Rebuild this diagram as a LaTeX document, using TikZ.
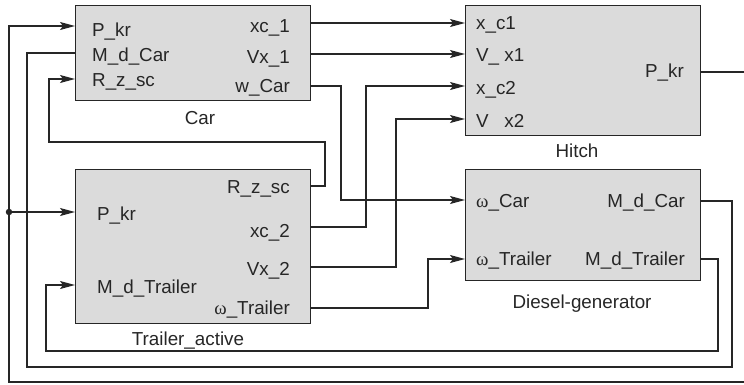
\documentclass[tikz,border=0pt]{standalone}
\usepackage{fontspec}
\setmainfont{Liberation Sans}
\newfontfamily\omf{Liberation Serif}
\usetikzlibrary{arrows.meta}
\definecolor{boxfill}{gray}{0.86}
\definecolor{ink}{gray}{0.15}
\tikzset{
  blk/.style={draw=ink, fill=boxfill, line width=1.3pt, inner sep=0pt, anchor=north west},
  lbl/.style={font=\fontsize{18.8}{22}\selectfont, text=ink, inner sep=0pt},
  wire/.style={draw=ink, line width=1.2pt},
  arr/.style={wire, -{Stealth[length=15pt,width=8pt,inset=3pt]}},
  jdot/.style={circle, fill=ink, inner sep=0pt, minimum size=6.5pt},
}
\begin{document}
\begin{tikzpicture}[x=1pt,y=-1pt]
\useasboundingbox (0,0) rectangle (744,384);
% blocks
\node[blk, minimum width=235pt, minimum height=95pt] (car) at (75,5) {};
\node[blk, minimum width=235pt, minimum height=130pt] (hitch) at (465,5) {};
\node[blk, minimum width=235pt, minimum height=154pt] (trl) at (75,169) {};
\node[blk, minimum width=235pt, minimum height=111pt] (dsl) at (465,169) {};
% block titles
\node[lbl, anchor=base] (tcar) at (200,124) {Car};
\node[lbl, anchor=base] (thitch) at (577,157) {Hitch};
\node[lbl, anchor=base] (ttrl) at (188,345) {Trailer\_active};
\node[lbl, anchor=base] (tdsl) at (582,308) {Diesel-generator};
% Car ports
\node[lbl, anchor=base west] (lc1) at (92,36) {P\_kr};
\node[lbl, anchor=base west] (lc2) at (92,61) {M\_d\_Car};
\node[lbl, anchor=base west] (lc3) at (92,86) {R\_z\_sc};
\node[lbl, anchor=base east] (lc4) at (290,32) {xc\_1};
\node[lbl, anchor=base east] (lc5) at (290,63) {Vx\_1};
\node[lbl, anchor=base east] (lc6) at (290,92) {w\_Car};
% Hitch ports
\node[lbl, anchor=base west] (lh1) at (476,29) {x\_c1};
\node[lbl, anchor=base west] (lh2) at (476,61) {V\_ x1};
\node[lbl, anchor=base west] (lh3) at (476,94) {x\_c2};
\node[lbl, anchor=base west] (lh4) at (476,127) {V\phantom{\_} x2};
\node[lbl, anchor=base east] (lh5) at (684,77) {P\_kr};
% Trailer ports
\node[lbl, anchor=base east] (lt1) at (290,193) {R\_z\_sc};
\node[lbl, anchor=base west] (lt2) at (97,220) {P\_kr};
\node[lbl, anchor=base east] (lt3) at (290,237) {xc\_2};
\node[lbl, anchor=base east] (lt4) at (290,275) {Vx\_2};
\node[lbl, anchor=base west] (lt5) at (97,293) {M\_d\_Trailer};
\node[lbl, anchor=base east] (lt6) at (290,314) {{\omf ω}\_Trailer};
% Diesel ports
\node[lbl, anchor=base west] (ld1) at (476,207) {{\omf ω}\_Car};
\node[lbl, anchor=base east] (ld2) at (685,207) {M\_d\_Car};
\node[lbl, anchor=base west] (ld3) at (476,265) {{\omf ω}\_Trailer};
\node[lbl, anchor=base east] (ld4) at (685,265) {M\_d\_Trailer};
% port coordinates
\coordinate (cIn1) at (75,26);
\coordinate (cIn2) at (75,53);
\coordinate (cIn3) at (75,79);
\coordinate (cOut1) at (310,23);
\coordinate (cOut2) at (310,54);
\coordinate (cOut3) at (310,86);
\coordinate (hIn1) at (465,23);
\coordinate (hIn2) at (465,54);
\coordinate (hIn3) at (465,86);
\coordinate (hIn4) at (465,119);
\coordinate (hOut) at (700,72);
\coordinate (tIn1) at (75,212);
\coordinate (tIn2) at (75,285);
\coordinate (tOut1) at (310,186);
\coordinate (tOut2) at (310,227);
\coordinate (tOut3) at (310,267);
\coordinate (tOut4) at (310,308);
\coordinate (dIn1) at (465,200);
\coordinate (dIn2) at (465,259);
\coordinate (dOut1) at (700,201);
\coordinate (dOut2) at (700,259);
\coordinate (edgeR) at (744,72);
\coordinate (edgeB) at (744,382);
\node[jdot] (jn) at (9,212) {};
% connectors
\draw[arr] (cOut1) -- (hIn1);
\draw[arr] (cOut2) -- (hIn2);
\draw[arr] (cOut3) -- (341,86) -- (341,200) -- (dIn1);
\draw[arr] (tOut2) -- (366,227) -- (366,86) -- (hIn3);
\draw[arr] (tOut3) -- (396,267) -- (396,119) -- (hIn4);
\draw[arr] (tOut4) -- (428,308) -- (428,259) -- (dIn2);
\draw[arr] (tOut1) -- (325,186) -- (325,142) -- (49,142) -- (49,79) -- (cIn3);
\draw[wire] (dOut1) -- (732,201) -- (732,367) -- (27,367) -- (27,53) -- (cIn2);
\draw[arr] (dOut2) -- (718,259) -- (718,351) -- (46,351) -- (46,285) -- (tIn2);
\draw[wire] (hOut) -- (edgeR);
\draw[arr] (edgeB) -- (9,382) -- (9,26) -- (cIn1);
\draw[arr] (jn.center) -- (tIn1);
\end{tikzpicture}
\end{document}
